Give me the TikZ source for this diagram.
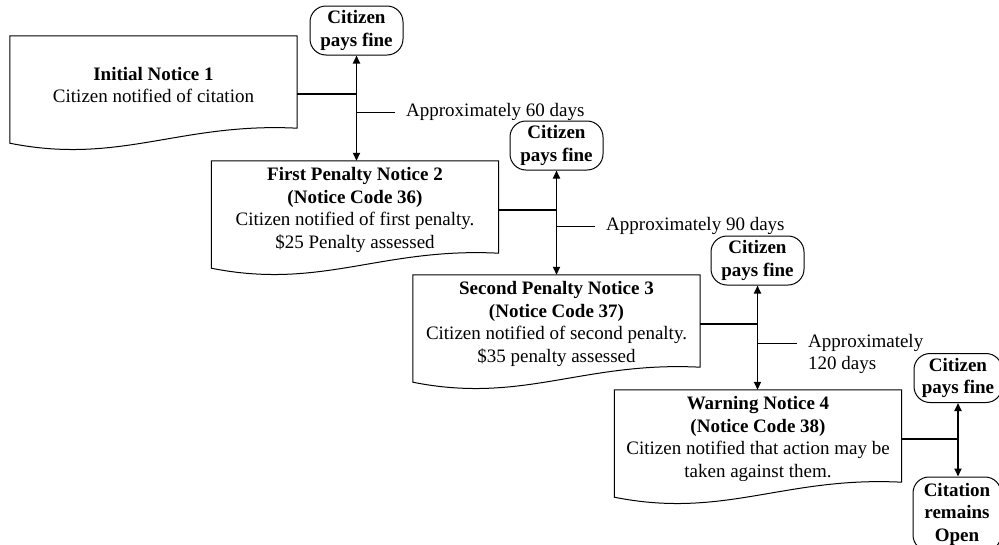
\documentclass[tikz,border=0pt]{standalone}
\usepackage{fontspec}
\setmainfont{Liberation Serif}
\usetikzlibrary{arrows.meta}

\newcommand\notefont{\fontsize{19}{22.5}\selectfont}
\tikzset{
  notice/.style={minimum width=287pt, minimum height=98pt, align=center, inner sep=0pt},
  payfine/.style={draw, line width=1pt, rounded corners=16pt, align=center, font=\notefont\bfseries,
    minimum width=93pt, minimum height=49pt, inner sep=0pt},
  flow/.style={line width=1.8pt},
  tick/.style={line width=1pt},
  approx/.style={anchor=west, inner xsep=11pt, inner ysep=0pt, align=left}
}
% document outline with wavy bottom
\newcommand\docwave[1]{\draw[line width=1pt] (#1.north west) -- (#1.north east) -- ([yshift=6pt]#1.south east)
  .. controls +(-117,-6) and +(110,22) .. ([yshift=-9pt]#1.south west) -- cycle;}

\begin{document}
\begin{tikzpicture}[x=1pt,y=-1pt,>={Triangle[length=8pt,width=7pt]},font=\notefont]
\useasboundingbox (0,0) rectangle (999,544);

\node[notice](doc1) at (153.5,85) {\textbf{Initial Notice 1}\\Citizen notified of citation};
\node[notice](doc2) at (355,210) {\textbf{First Penalty Notice 2}\\\textbf{(Notice Code 36)}\\Citizen notified of first penalty.\\\$25 Penalty assessed};
\node[notice](doc3) at (556.5,324) {\textbf{Second Penalty Notice 3}\\\textbf{(Notice Code 37)}\\Citizen notified of second penalty.\\\$35 penalty assessed};
\node[notice](doc4) at (758,439) {\textbf{Warning Notice 4}\\\textbf{(Notice Code 38)}\\Citizen notified that action may be\\taken against them.};
\foreach \d in {1,...,4}
  {\docwave{doc\d}}

\node[payfine](pay1) at (356.5,30.5) {Citizen\\pays fine};
\node[payfine](pay2) at (556.5,145.5) {Citizen\\pays fine};
\node[payfine](pay3) at (757.5,260.5) {Citizen\\pays fine};
\node[payfine, minimum width=88pt](pay4) at (958,378) {Citizen\\pays fine};
\node[payfine, minimum width=88pt, minimum height=74pt](open) at (957,514) {Citation\\remains\\Open};

\node[approx](lab1) at (395,112) {Approximately 60 days};
\node[approx](lab2) at (595,226) {Approximately 90 days};
\node[approx](lab3) at (797,354) {Approximately\\120 days};

\draw[flow]([yshift=-9pt]doc1.east)--([yshift=-9pt]doc1.east -| pay1.south);
\draw[flow,<->](pay1.south)--(pay1.south |- doc2.north);
\foreach \a/\b in {2/3,3/4}
  {\draw[flow](doc\a.east)--(doc\a.east -| pay\a.south);
   \draw[flow,<->](pay\a.south)--(pay\a.south |- doc\b.north);}
\draw[flow](doc4.east)--(doc4.east -| pay4.south);
\draw[flow,<->](pay4.south)--(pay4.south |- open.north);

\draw[tick](lab1.west -| pay1.south)--(lab1.west);
\draw[tick](lab2.west -| pay2.south)--(lab2.west);
\draw[tick]([yshift=11pt]lab3.west -| pay3.south)--([yshift=11pt]lab3.west);

\end{tikzpicture}
\end{document}
